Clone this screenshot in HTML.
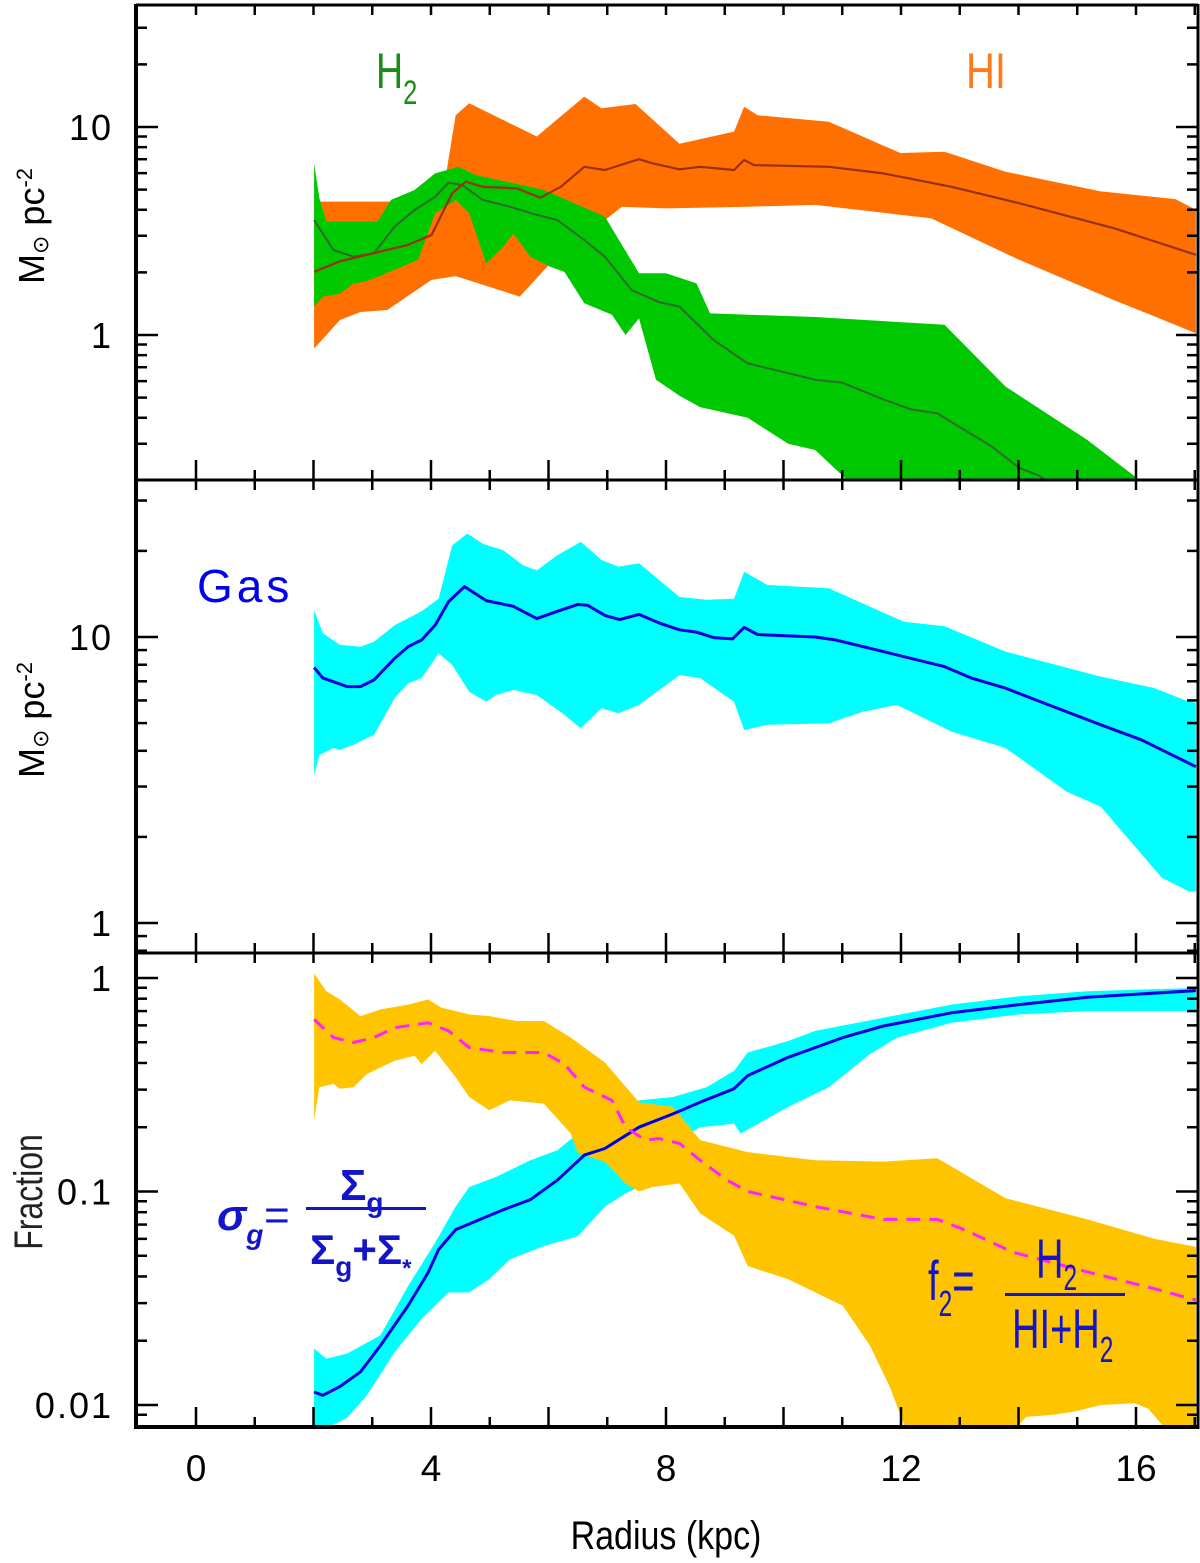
<!DOCTYPE html>
<html><head><meta charset="utf-8"><style>
html,body{margin:0;padding:0;background:#fff;}
svg{display:block;}
text{font-family:"Liberation Sans","DejaVu Sans",sans-serif;}
</style></head><body>
<svg id="chart" width="1200" height="1563" viewBox="0 0 1200 1563" xmlns="http://www.w3.org/2000/svg">
<defs>
<clipPath id="cTop"><rect x="136" y="5" width="1062" height="475"/></clipPath>
<clipPath id="cMid"><rect x="136" y="480" width="1062" height="473"/></clipPath>
<clipPath id="cBot"><rect x="136" y="953" width="1062" height="474"/></clipPath>
</defs>
<g id="marks"></g>
<g id="axes"></g>
<g id="labels">
<text transform="translate(44,226) rotate(-90)" text-anchor="middle" font-size="36">M<tspan font-size="22" dy="4">⊙</tspan><tspan dy="-4"> pc</tspan><tspan font-size="22" dy="-12">-2</tspan></text>
<text transform="translate(44,720) rotate(-90)" text-anchor="middle" font-size="36">M<tspan font-size="22" dy="4">⊙</tspan><tspan dy="-4"> pc</tspan><tspan font-size="22" dy="-12">-2</tspan></text>
<text transform="translate(42,1192) rotate(-90) scale(0.8,1)" text-anchor="middle" font-size="40" fill="#222">Fraction</text>
<text x="666" y="1549" text-anchor="middle" font-size="40" transform="translate(666,0) scale(0.85,1) translate(-666,0)">Radius (kpc)</text>
<text x="376" y="88" font-size="50" fill="#1a8c1a" transform="translate(376,0) scale(0.75,1) translate(-376,0)">H<tspan font-size="34" dy="16">2</tspan></text>
<text x="966" y="88" font-size="50" fill="#ff7a1a" transform="translate(966,0) scale(0.8,1) translate(-966,0)">HI</text>
<text x="197" y="602" font-size="46" fill="#0000ee" letter-spacing="4">Gas</text>
<g fill="#1414c8" font-weight="bold">
<text x="217" y="1230" font-size="44" font-style="italic">σ<tspan font-size="28" dy="14">g</tspan><tspan dy="-14" font-weight="normal">=</tspan></text>
<text x="340" y="1200" font-size="44">Σ<tspan font-size="28" dy="12">g</tspan></text>
<rect x="306" y="1207" width="120" height="3"/>
<text x="310" y="1264" font-size="42">Σ<tspan font-size="28" dy="12">g</tspan><tspan dy="-12">+Σ</tspan><tspan font-size="24" dy="12">*</tspan></text>
</g>
<g fill="#1414c8">
<text x="928" y="1300" font-size="56" transform="translate(928,0) scale(0.68,1) translate(-928,0)">f<tspan font-size="36" dy="16">2</tspan><tspan dy="-16">=</tspan></text>
<text x="1036" y="1278" font-size="56" transform="translate(1036,0) scale(0.68,1) translate(-1036,0)">H<tspan font-size="36" dy="12">2</tspan></text>
<rect x="1005" y="1293" width="120" height="3"/>
<text x="1012" y="1348" font-size="56" transform="translate(1012,0) scale(0.68,1) translate(-1012,0)">HI+H<tspan font-size="36" dy="14">2</tspan></text>
</g>
</g>
</svg>
<script>
// ---- Top panel (HI / H2) ----
const hiUpX = [2.01,3.32,4.24,4.42,4.65,5.80,6.61,6.90,7.48,8.23,9.16,9.33,9.56,10.77,11.99,12.74,13.78,15.40,16.67,17.02];
const hiUpV = [4.38,4.38,5.56,11.4,13.0,9.0,14.0,12.3,12.9,8.3,9.5,12.5,11.4,10.6,7.5,7.6,6.1,4.9,4.5,4.0];
const hiLoX = [2.01,2.45,2.80,3.26,4.01,4.42,5.51,6.03,7.25,8.0,9.39,10.54,12.51,14.01,15.63,17.02];
const hiLoV = [0.86,1.18,1.29,1.32,1.84,1.92,1.53,2.21,4.14,4.06,4.14,4.22,3.64,2.30,1.47,1.02];
const hiMedX = [2.01,2.45,2.91,3.61,4.01,4.36,4.59,4.88,5.46,5.86,6.21,6.61,6.96,7.54,7.77,8.23,8.58,9.16,9.33,9.50,10.77,11.70,12.86,14.01,15.63,17.02];
const hiMedV = [2.01,2.26,2.43,2.71,3.03,4.80,5.46,5.16,5.07,4.57,5.16,6.44,6.21,7.0,6.69,6.26,6.44,6.21,6.94,6.56,6.44,5.98,5.16,4.30,3.26,2.43];
const h2UpX = [2.01,2.1,2.22,3.09,3.32,3.72,4.07,4.47,4.76,5.92,6.96,7.54,8.0,8.52,8.75,10.54,12.74,13.78,15.17,15.98,16.5];
const h2UpV = [6.69,4.54,3.51,3.51,4.46,4.98,5.98,6.44,5.87,4.98,3.71,1.98,1.98,1.77,1.27,1.22,1.12,0.565,0.313,0.209,0.15];
const h2LoX = [2.01,2.16,2.45,2.68,2.86,3.09,3.78,4.07,4.42,4.65,4.94,5.23,5.40,5.69,6.03,6.27,6.61,7.08,7.31,7.54,7.83,8.23,8.58,9.39,10.08,10.54,11.01,11.5];
const h2LoV = [1.37,1.53,1.58,1.77,1.80,1.90,2.30,3.85,4.46,3.85,2.21,2.66,3.08,2.38,2.13,2.01,1.42,1.25,1.0,1.20,0.61,0.51,0.45,0.40,0.30,0.28,0.21,0.15];
const h2MedX = [2.01,2.34,2.68,3.03,3.38,3.72,4.07,4.30,4.53,4.88,5.34,5.80,6.15,6.61,6.96,7.42,7.88,8.23,8.80,9.39,10.54,11.0,11.70,12.16,12.62,13.55,14.01,14.36,14.8];
const h2MedV = [3.57,2.56,2.38,2.47,3.32,3.99,4.62,5.40,5.26,4.46,4.14,3.78,3.57,2.86,2.38,1.64,1.44,1.37,0.95,0.73,0.61,0.59,0.49,0.44,0.42,0.29,0.23,0.21,0.17];
// ---- Middle panel (Gas) ----
const gasUpX = [2.01,2.16,2.45,2.80,3.03,3.38,3.84,4.13,4.36,4.62,4.88,5.23,5.57,5.80,6.15,6.55,6.90,7.19,7.54,8.23,8.69,9.16,9.33,9.73,10.77,12.05,12.74,13.78,15.40,16.32,16.90,17.02];
const gasUpV = [12.4,10.3,9.38,9.25,9.63,11.0,12.3,13.6,20.9,23.0,21.2,20.1,17.8,17.1,19.3,21.5,18.6,17.6,18.1,13.8,13.5,13.6,16.9,15.2,14.8,11.3,10.9,8.89,7.27,6.62,5.94,5.9];
const gasLoX = [2.01,2.10,2.34,2.45,2.68,3.03,3.38,3.61,3.84,4.13,4.36,4.65,4.94,5.11,5.40,5.80,6.27,6.55,6.90,7.19,7.54,8.23,8.58,9.16,9.33,9.73,10.77,11.35,11.93,12.86,13.78,14.82,15.40,16.44,16.90,17.02];
const gasLoV = [3.30,3.87,4.09,4.03,4.20,4.55,6.11,6.89,7.18,8.77,7.99,6.44,5.94,6.27,6.53,6.27,5.35,4.80,5.64,5.41,5.79,7.36,7.18,5.94,4.73,4.93,4.99,5.48,5.79,4.67,4.09,2.88,2.55,1.44,1.29,1.29];
const gasMedX = [2.01,2.16,2.34,2.57,2.80,3.03,3.38,3.61,3.84,4.07,4.30,4.57,4.94,5.40,5.80,6.15,6.50,6.67,6.96,7.21,7.54,7.88,8.23,8.52,8.81,9.13,9.33,9.56,10.54,10.89,11.70,12.39,12.74,13.20,13.78,14.59,15.40,16.09,17.02];
const gasMedV = [7.82,7.18,6.98,6.71,6.71,7.08,8.42,9.25,9.76,11.0,13.3,15.0,13.4,12.8,11.6,12.3,13.0,12.9,11.9,11.5,12.0,11.2,10.6,10.4,9.95,9.85,10.8,10.2,10.0,9.76,8.89,8.20,7.88,7.18,6.62,5.71,4.93,4.37,3.52];
// ---- Bottom panel (fractions) ----
const sgUpX = [2.01,2.22,2.57,3.14,3.61,4.07,4.42,4.65,5.11,5.69,6.15,6.50,7.08,7.54,8.12,8.69,9.16,9.39,10.08,10.54,11.70,12.86,14.01,15.17,17.02];
const sgUpV = [0.0184,0.0165,0.0174,0.0212,0.0361,0.0575,0.0851,0.105,0.117,0.140,0.156,0.187,0.240,0.267,0.277,0.308,0.368,0.448,0.507,0.565,0.652,0.751,0.822,0.867,0.898];
const sgLoX = [2.01,2.34,2.57,2.91,3.38,3.84,4.30,4.65,4.99,5.34,5.92,6.50,6.96,7.31,7.54,8.00,8.58,9.16,9.27,10.08,10.77,11.47,11.93,12.86,14.01,15.17,17.02];
const sgLoV = [0.007,0.0081,0.0087,0.0111,0.0177,0.0253,0.0337,0.0337,0.0388,0.0481,0.0555,0.0618,0.0851,0.098,0.105,0.162,0.200,0.208,0.187,0.249,0.308,0.440,0.526,0.617,0.675,0.700,0.700];
const sgMedX = [2.01,2.16,2.45,2.80,3.14,3.61,3.95,4.13,4.42,4.76,5.23,5.69,6.15,6.61,6.96,7.54,8.12,8.58,9.16,9.39,10.08,11.01,11.70,12.86,14.01,15.17,17.02];
const sgMedV = [0.0115,0.0111,0.0122,0.0143,0.0190,0.0292,0.0417,0.0535,0.0663,0.0725,0.0822,0.0915,0.113,0.148,0.159,0.200,0.231,0.262,0.303,0.349,0.425,0.526,0.596,0.687,0.751,0.813,0.873];
const f2UpX = [2.01,2.22,2.45,2.80,3.14,3.61,3.95,4.18,4.65,4.99,5.46,5.92,6.38,6.96,7.54,8.12,8.58,9.39,10.54,11.70,12.62,13.78,15.17,16.32,17.02];
const f2UpV = [1.05,0.867,0.793,0.663,0.712,0.751,0.793,0.725,0.675,0.663,0.629,0.629,0.526,0.402,0.262,0.249,0.174,0.153,0.140,0.138,0.143,0.093,0.074,0.060,0.055];
const f2LoX = [2.01,2.10,2.34,2.45,2.68,2.91,3.38,3.72,3.84,4.07,4.42,4.65,4.99,5.34,5.92,6.38,6.50,6.96,7.31,7.54,7.77,8.23,8.58,9.16,9.39,10.08,10.54,11.01,11.47,11.82,12.05,12.3,13.8,14.01,14.13,14.59,14.94,15.40,15.98,16.21,16.44,17.02];
const f2LoV = [0.216,0.308,0.319,0.303,0.308,0.355,0.410,0.432,0.395,0.456,0.343,0.277,0.240,0.267,0.258,0.187,0.151,0.138,0.109,0.100,0.105,0.109,0.079,0.062,0.0448,0.0388,0.0337,0.0292,0.0190,0.0120,0.0081,0.006,0.006,0.0081,0.0088,0.0090,0.0093,0.0100,0.0102,0.0096,0.0081,0.006];
const f2MedX = [2.01,2.34,2.68,3.03,3.38,3.95,4.30,4.65,5.23,5.92,6.27,6.61,7.08,7.31,7.65,7.88,8.23,8.58,9.04,9.39,10.54,11.70,12.62,13.09,13.90,15.17,16.32,17.02];
const f2MedV = [0.640,0.526,0.499,0.526,0.585,0.617,0.565,0.472,0.448,0.448,0.395,0.308,0.267,0.200,0.174,0.177,0.168,0.140,0.113,0.100,0.085,0.074,0.074,0.066,0.052,0.042,0.035,0.031];
// axis tick arrays
const xTicks = [-1,0,1,2,3,4,5,6,7,8,9,10,11,12,13,14,15,16,17];
const xTickLabels = ["0","4","8","12","16"];
const topYLabels = ["10","1"];
const midYLabels = ["10","1"];
const botYLabels = ["1","0.1","0.01"];

const NS = "http://www.w3.org/2000/svg";
const L = 136, R = 1198;
function X(k){ return 196 + k*58.75; }
const panels = {
  top: {y0:5, y1:480, base:335, dec:208, clip:"cTop"},
  mid: {y0:480, y1:953, base:923, dec:286, clip:"cMid"},
  bot: {y0:953, y1:1427, base:978, dec:213.5, clip:"cBot"}
};
function Yf(p){ return v => p.base - p.dec*Math.log10(v); }
const marks = document.getElementById("marks");
const axes = document.getElementById("axes");
function mk(tag, attrs, parent){
  const e = document.createElementNS(NS, tag);
  for (const k in attrs) e.setAttribute(k, attrs[k]);
  parent.appendChild(e);
  return e;
}
function band(p, ux, uv, lx, lv, fill, name){
  const Y = Yf(p);
  const pts = [];
  for (let i=0;i<ux.length;i++) pts.push(X(ux[i]).toFixed(1)+","+Y(uv[i]).toFixed(1));
  for (let i=lx.length-1;i>=0;i--) pts.push(X(lx[i]).toFixed(1)+","+Y(lv[i]).toFixed(1));
  const e = mk("polygon", {points: pts.join(" "), fill: fill, "clip-path":"url(#"+p.clip+")"}, marks);
  
  
}
function line(p, xs, vs, stroke, w, name, dash){
  const Y = Yf(p);
  const pts = xs.map((x,i)=>X(x).toFixed(1)+","+Y(vs[i]).toFixed(1));
  const a = {points: pts.join(" "), fill:"none", stroke: stroke, "stroke-width": w, "stroke-linejoin":"round", "clip-path":"url(#"+p.clip+")"};
  if (dash) a["stroke-dasharray"] = dash;
  const e = mk("polyline", a, marks);
  
  
}
band(panels.top, hiUpX, hiUpV, hiLoX, hiLoV, "#ff7000", "hi-band");
band(panels.top, h2UpX, h2UpV, h2LoX, h2LoV, "#00c800", "h2-band");
line(panels.top, h2MedX, h2MedV, "#2f6a2f", 2, "h2-median-line");
line(panels.top, hiMedX, hiMedV, "#9a3010", 2.2, "hi-median-line");
band(panels.mid, gasUpX, gasUpV, gasLoX, gasLoV, "#00ffff", "gas-band");
line(panels.mid, gasMedX, gasMedV, "#0000dd", 3, "gas-median-line");
band(panels.bot, sgUpX, sgUpV, sgLoX, sgLoV, "#00ffff", "sigma-g-band");
band(panels.bot, f2UpX, f2UpV, f2LoX, f2LoV, "#ffc400", "f2-band");
line(panels.bot, sgMedX, sgMedV, "#0000dd", 3, "sigma-g-median-line");
line(panels.bot, f2MedX, f2MedV, "#ff22ff", 3, "f2-median-line", "14,9");

function axisLine(x1,y1,x2,y2,w,name){
  const e = mk("line",{x1:x1,y1:y1,x2:x2,y2:y2,stroke:"#000","stroke-width":w},axes);
  
  
}
axisLine(L,5,R,5,3,"frame-top");
axisLine(L,480,R,480,3,"divider-top-middle");
axisLine(L,953,R,953,3,"divider-middle-bottom");
axisLine(L,1427,R,1427,4,"frame-bottom");
axisLine(L,4,L,1429,4,"frame-left");
axisLine(R,4,R,1429,3,"frame-right");
for (const key of ["top","mid","bot"]){
  const p = panels[key], Y = Yf(p);
  xTicks.forEach(k=>{
    const x = X(k);
    if (x<=L+2 || x>=R-2) return;
    const e1 = mk("line",{x1:x,y1:p.y0,x2:x,y2:p.y0+10,stroke:"#000","stroke-width":2.5},axes);
    
    
    const len = (k%2===0)?20:10;
    const e2 = mk("line",{x1:x,y1:p.y1,x2:x,y2:p.y1-len,stroke:"#000","stroke-width":2.5},axes);
    
    
  });
  for (let d=-3; d<=2; d++){
    for (let m=1; m<=9; m++){
      const y = Y(m*Math.pow(10,d));
      if (y<=p.y0+2 || y>=p.y1-2) continue;
      const len = m===1?22:11;
      const a = mk("line",{x1:L,y1:y,x2:L+len,y2:y,stroke:"#000","stroke-width":2.5},axes);
      
      
      const b = mk("line",{x1:R,y1:y,x2:R-len,y2:y,stroke:"#000","stroke-width":2.5},axes);
      
      
    }
  }
}
function yLabels(p, labels){
  const Y = Yf(p);
  labels.forEach(s=>{
    const t = mk("text",{x:113,y:(Y(parseFloat(s))+13).toFixed(1),"text-anchor":"end","font-size":36,"letter-spacing":"2"},axes);
    t.textContent = s;
    
    
  });
}
yLabels(panels.top, topYLabels);
yLabels(panels.mid, midYLabels);
yLabels(panels.bot, botYLabels);
xTickLabels.forEach(s=>{
  const t = mk("text",{x:X(parseFloat(s)).toFixed(1),y:1481,"text-anchor":"middle","font-size":37},axes);
  t.textContent = s;
  
  
});
</script>
</body></html>
